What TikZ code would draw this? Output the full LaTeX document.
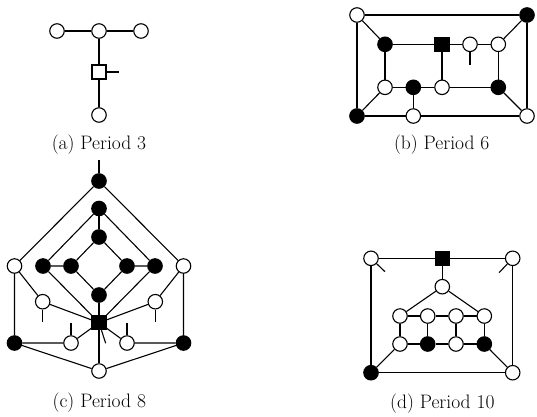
\documentclass[tikz,border=0pt]{standalone}
\usepackage{amsmath,amssymb}
\usepackage{tikz}
\usetikzlibrary{positioning,calc}

\tikzset{
  wn/.style={circle,draw,fill=white,inner sep=0pt,minimum size=14.5pt},
  bn/.style={circle,draw,fill=black,inner sep=0pt,minimum size=14.5pt},
  ws/.style={rectangle,draw,fill=white,inner sep=0pt,minimum size=14pt},
  bs/.style={rectangle,draw,fill=black,inner sep=0pt,minimum size=14pt},
  lbl/.style={font=\fontsize{19.5}{22}\selectfont},
}

\begin{document}
\begin{tikzpicture}[x=1pt,y=-1pt,line width=1.1pt]
    \useasboundingbox (0,0) rectangle (537,416);

    % (a) Period 3
    \node[wn] (a1) at (57,31) {};
    \node[wn] (a2) at (99,31) {};
    \node[wn] (a3) at (141,31) {};
    \node[ws] (a4) at (99,72) {};
    \node[wn] (a5) at (99,115) {};
    \coordinate (a6) at (119,72);
    \draw (a1) -- (a2) -- (a3);
    \draw (a2) -- (a4) -- (a5);
    \draw (a4) -- (a6);
    \node[lbl] (la) at (99,145) {(a) Period 3};

    % (b) Period 6
    \node[wn] (b1) at (357,15) {};
    \node[bn] (b2) at (527,15) {};
    \node[bn] (b3) at (357,116) {};
    \node[wn] (b4) at (527,116) {};
    \node[wn] (b5) at (413.3,116) {};
    \node[bn] (b6) at (385,44.3) {};
    \node[bs] (b7) at (442,44.3) {};
    \node[wn] (b8) at (470,44.3) {};
    \node[wn] (b9) at (498.3,44.3) {};
    \node[wn] (b10) at (385,87.3) {};
    \node[bn] (b11) at (413.3,87.3) {};
    \node[wn] (b12) at (442,87.3) {};
    \node[bn] (b13) at (498.3,87.3) {};
    \coordinate (b14) at (470,65);
    \draw (b1) -- (b2) -- (b4) -- (b5) -- (b3) -- (b1);
    \draw (b1) -- (b6);
    \draw (b2) -- (b9);
    \draw (b3) -- (b10);
    \draw (b4) -- (b13);
    \draw (b6) -- (b7) -- (b8) -- (b9);
    \draw (b10) -- (b11) -- (b12) -- (b13);
    \draw (b6) -- (b10);
    \draw (b7) -- (b12);
    \draw (b9) -- (b13);
    \draw (b11) -- (b5);
    \draw (b8) -- (b14);
    \node[lbl] (lb) at (441.7,145) {(b) Period 6};

    % (c) Period 8
    \coordinate (c0) at (99,160);
    \node[bn] (c1) at (99,181) {};
    \node[bn] (c2) at (99,208.5) {};
    \node[bn] (c3) at (99,237) {};
    \node[wn] (c4) at (14.5,266) {};
    \node[bn] (c5) at (43,266) {};
    \node[bn] (c6) at (71,266) {};
    \node[bn] (c7) at (127,266) {};
    \node[bn] (c8) at (155,266) {};
    \node[wn] (c9) at (183.5,266) {};
    \node[bn] (c10) at (99,295) {};
    \node[wn] (c11) at (42.7,301.7) {};
    \node[wn] (c12) at (155.3,301.7) {};
    \node[bs] (c13) at (99,322.7) {};
    \node[bn] (c14) at (14.5,343) {};
    \node[wn] (c15) at (71,343) {};
    \node[wn] (c16) at (127,343) {};
    \node[bn] (c17) at (183.5,343) {};
    \node[wn] (c18) at (99,371) {};
    \draw (c0) -- (c1);
    \draw (c4) -- (c1) -- (c9);
    \draw (c5) -- (c2) -- (c8);
    \draw (c2) -- (c3);
    \draw (c6) -- (c3) -- (c7);
    \draw (c5) -- (c6) -- (c10) -- (c7) -- (c8);
    \draw (c10) -- (c13) -- (c18);
    \draw (c5) -- (c13) -- (c8);
    \draw (c4) -- (c11) -- (c13) -- (c12) -- (c9);
    \draw (c4) -- (c14) -- (c15) -- (c13) -- (c16) -- (c17) -- (c9);
    \draw (c14) -- (c18) -- (c17);
    % stubs
    \foreach \n/\x/\y in {c11/42.7/321.7, c12/155.3/321.7, c15/71/322.7, c16/127/322.7, c13/105.7/343.3} {
        \coordinate (\n s) at (\x,\y);
        \draw (\n) -- (\n s);
    }
    \node[lbl] (lc) at (99.3,402.7) {(c) Period 8};

    % (d) Period 10
    \node[wn] (d1) at (371,258.3) {};
    \node[bs] (d2) at (442.3,258.3) {};
    \node[wn] (d3) at (512.7,258.3) {};
    \node[wn] (d4) at (442.3,286.7) {};
    \foreach \i/\x in {5/400,6/427.7,7/456,8/484.3} {
        \node[wn] (d\i) at (\x,316) {};
    }
    \node[wn] (d9) at (400,344) {};
    \node[bn] (d10) at (427.7,344) {};
    \node[wn] (d11) at (456,344) {};
    \node[bn] (d12) at (484.3,344) {};
    \node[bn] (d13) at (371,372.7) {};
    \node[wn] (d14) at (512.7,372.7) {};
    \coordinate (d15) at (385,271.7);
    \coordinate (d16) at (499,272.7);
    \draw (d1) -- (d2) -- (d3) -- (d14) -- (d13) -- (d1);
    \draw (d2) -- (d4);
    \draw (d5) -- (d4) -- (d8);
    \draw (d5) -- (d6) -- (d7) -- (d8);
    \draw (d9) -- (d10) -- (d11) -- (d12);
    \draw (d5) -- (d9) (d6) -- (d10) (d7) -- (d11) (d8) -- (d12);
    \draw (d13) -- (d9);
    \draw (d14) -- (d12);
    \draw (d1) -- (d15);
    \draw (d3) -- (d16);
    \node[lbl] (ld) at (442.3,403.3) {(d) Period 10};
\end{tikzpicture}
\end{document}
